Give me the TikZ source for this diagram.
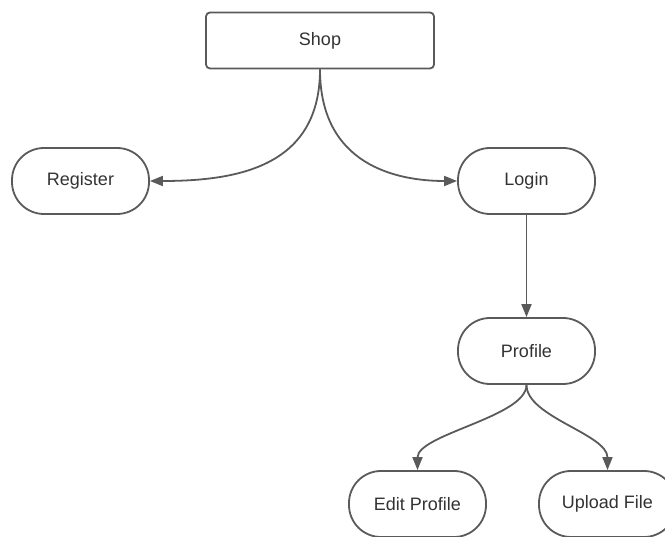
\documentclass[tikz,border=0pt]{standalone}
\usepackage{fontspec}
\setmainfont{Liberation Sans}
\usetikzlibrary{arrows.meta}
\definecolor{linegray}{HTML}{5A5A5A}
\definecolor{textgray}{HTML}{333333}
\tikzset{
  box/.style={draw=linegray, line width=1.8pt, fill=white, text=textgray,
    font=\fontsize{18}{22}\selectfont, inner sep=0pt},
  topbox/.style={box, minimum width=228pt, minimum height=56pt, rounded corners=4pt},
  pill/.style={box, minimum width=137pt, minimum height=66pt, rounded corners=32pt},
  conn/.style={draw=linegray, line width=1.8pt, -{Triangle[length=13pt,width=10pt]}}
}
\begin{document}
\begin{tikzpicture}[x=1pt,y=-1pt]
\useasboundingbox (0,0) rectangle (665,537);
\clip (0,0) rectangle (665,537);
\node[topbox] (shop) at (320,40.5) {Shop};
\node[pill] (register) at (80.5,181) {Register};
\node[pill] (login) at (526.5,181) {Login};
\node[pill] (profile) at (526.5,351) {Profile};
\node[pill] (edit) at (417.5,504) {Edit Profile};
\node[pill] (upload) at (607.5,504) {Upload File};
\draw[conn] (shop.south) .. controls +(0,96) and +(90,0) .. (register.east);
\draw[conn] (shop.south) .. controls +(0,96) and +(-60,0) .. (login.west);
\draw[conn] (login.south) -- (profile.north);
\draw[conn] (profile.south) .. controls +(0,32) and +(0,-36) .. (edit.north);
\draw[conn] (profile.south) .. controls +(0,32) and +(0,-36) .. (upload.north);
\end{tikzpicture}
\end{document}
